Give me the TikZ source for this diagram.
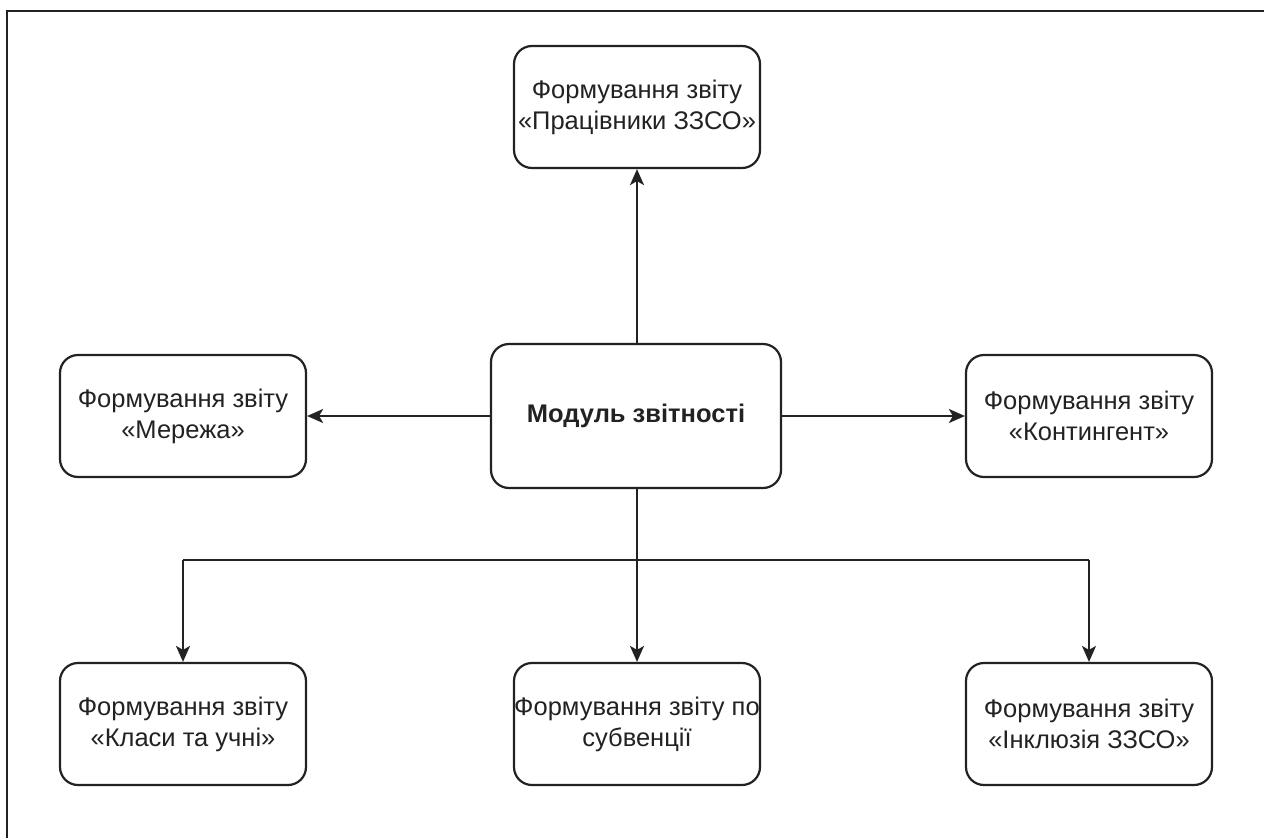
\documentclass[tikz,border=0pt]{standalone}
\usepackage{fontspec}
\setmainfont{Liberation Sans}
\usetikzlibrary{arrows.meta}
\definecolor{ink}{HTML}{222222}
\begin{document}
\begin{tikzpicture}[x=1pt,y=-1pt,
  box/.style={draw=ink, line width=2.2pt, rounded corners=18pt, fill=white,
    minimum width=246pt, minimum height=122pt, align=center, text=ink,
    font=\fontsize{25.5}{31}\selectfont, inner sep=0pt},
  bigbox/.style={box, minimum width=290pt, minimum height=144pt},
  conn/.style={draw=ink, line width=2.2pt, -{Stealth[length=16pt,width=14pt,inset=4pt]}},
  plain/.style={draw=ink, line width=2.2pt}]
\useasboundingbox (0,0) rectangle (1264,838);
\draw[ink, line width=1.8pt] (7,838) -- (7,11) -- (1264,11);
\node[bigbox] (m) at (636,416) {\textbf{Модуль звітності}};
\node[box] (t) at (637,107) {Формування звіту\\«Працівники ЗЗСО»};
\node[box] (l) at (183,416) {Формування звіту\\«Мережа»};
\node[box] (r) at (1089,416) {Формування звіту\\«Контингент»};
\node[box] (bl) at (183,724) {Формування звіту\\«Класи та учні»};
\node[box] (bm) at (637,724) {Формування звіту по\\субвенції};
\node[box] (br) at (1089,724) {Формування звіту\\«Інклюзія ЗЗСО»};
\coordinate (j) at (637,560);
\draw[conn] (m.north -| t.south) -- (t.south);
\draw[conn] (m.west) -- (l.east);
\draw[conn] (m.east) -- (r.west);
\draw[conn] (m.south -| bm.north) -- (bm.north);
\draw[plain] (j -| bl.north) -- (j -| br.north);
\draw[conn] (j -| bl.north) -- (bl.north);
\draw[conn] (j -| br.north) -- (br.north);
\end{tikzpicture}
\end{document}
